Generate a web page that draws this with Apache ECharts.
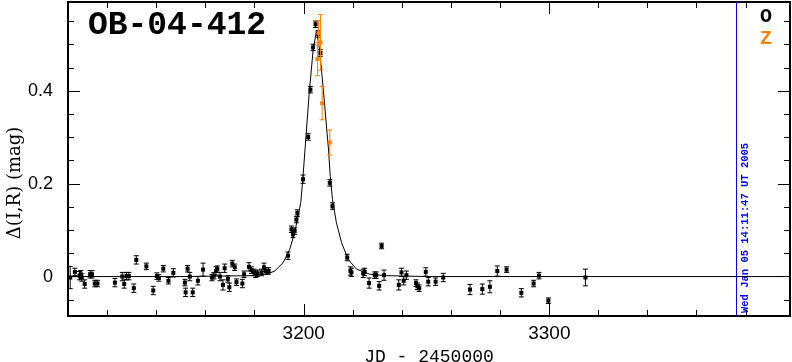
<!DOCTYPE html>
<html>
<head>
<meta charset="utf-8">
<script src="https://cdn.jsdelivr.net/npm/echarts@6/dist/echarts.min.js"></script>
<style>
  html, body { margin: 0; padding: 0; background: #fff; }
  #chart { width: 792px; height: 362px; }
</style>
</head>
<body>
<div id="chart"></div>
<script>
// O band photometry (JD - 2450000, delta mag, error)
const oJd = [3104.9, 3106.8, 3108.7, 3109.2, 3109.6, 3110.8, 3113.0, 3113.8, 3114.9, 3116.0,
  3123.1, 3126.1, 3126.9, 3127.8, 3128.8, 3130.8, 3131.8, 3135.9, 3138.7, 3140.2,
  3141.0, 3142.8, 3144.9, 3146.9, 3151.6, 3151.9, 3152.7, 3153.6, 3154.8, 3156.9,
  3159.0, 3162.6, 3163.4, 3164.3, 3164.8, 3165.9, 3167.1, 3167.8, 3169.1, 3169.7,
  3170.9, 3171.9, 3172.6, 3175.0, 3175.7, 3177.7, 3178.7, 3179.7, 3180.4, 3181.1,
  3182.8, 3183.8, 3184.6, 3185.7, 3193.6, 3195.0, 3195.6, 3196.3, 3197.0, 3197.4,
  3199.7, 3201.8, 3202.7, 3203.8, 3204.8, 3205.8, 3206.8, 3210.6, 3211.7, 3217.7,
  3219.0, 3219.4, 3224.2, 3224.8, 3226.6, 3228.9, 3229.5, 3230.7, 3231.7, 3232.7,
  3238.7, 3239.8, 3240.7, 3241.8, 3245.7, 3246.3, 3247.0, 3249.7, 3250.7, 3253.7,
  3256.8, 3267.7, 3272.7, 3275.8, 3278.8, 3282.6, 3288.6, 3293.6, 3295.8, 3299.6,
  3314.7];
const oMag = [-0.002, 0.010, 0.002, 0.005, -0.002, -0.016, 0.005, 0.005, -0.015, -0.015,
  -0.013, 0.000, -0.016, 0.001, 0.001, -0.025, 0.036, 0.022, -0.030, 0.001,
  -0.003, 0.017, -0.009, 0.008, -0.013, -0.034, 0.017, 0.000, -0.034, -0.009,
  0.015, -0.002, 0.002, 0.012, 0.016, 0.000, -0.018, 0.018, -0.005, -0.023,
  0.028, 0.020, -0.012, -0.015, 0.005, 0.021, 0.014, 0.009, 0.005, 0.007,
  0.009, 0.020, 0.012, 0.012, 0.045, 0.102, 0.091, 0.098, 0.123, 0.137,
  0.210, 0.301, 0.403, 0.494, 0.544, 0.523, 0.482, 0.202, 0.152, 0.041,
  0.012, 0.009, 0.007, 0.010, -0.014, 0.003, 0.003, -0.020, 0.066, 0.003,
  -0.018, 0.009, -0.009, 0.003, -0.014, -0.021, -0.025, 0.010, -0.011, -0.011,
  -0.002, -0.028, -0.027, -0.022, 0.012, 0.015, -0.035, -0.015, 0.002, -0.052,
  -0.002];
const oErr = [0.024, 0.008, 0.009, 0.008, 0.008, 0.009, 0.008, 0.008, 0.007, 0.007,
  0.009, 0.009, 0.009, 0.008, 0.008, 0.009, 0.009, 0.007, 0.009, 0.007,
  0.007, 0.007, 0.007, 0.009, 0.007, 0.009, 0.007, 0.009, 0.009, 0.009,
  0.014, 0.007, 0.007, 0.009, 0.007, 0.009, 0.011, 0.009, 0.007, 0.009,
  0.007, 0.007, 0.007, 0.009, 0.007, 0.009, 0.007, 0.007, 0.007, 0.007,
  0.007, 0.009, 0.007, 0.007, 0.008, 0.007, 0.007, 0.007, 0.007, 0.007,
  0.009, 0.007, 0.007, 0.007, 0.007, 0.007, 0.007, 0.007, 0.007, 0.007,
  0.009, 0.009, 0.009, 0.008, 0.011, 0.007, 0.007, 0.009, 0.006, 0.011,
  0.011, 0.009, 0.009, 0.009, 0.007, 0.007, 0.007, 0.009, 0.009, 0.008,
  0.009, 0.011, 0.011, 0.013, 0.011, 0.006, 0.009, 0.007, 0.007, 0.006,
  0.018];

// Z band photometry
const zJd = [3206.0, 3206.8, 3205.6, 3207.5, 3210.6];
const zMag = [0.525, 0.505, 0.469, 0.374, 0.289];
const zErr = [0.027, 0.060, 0.036, 0.036, 0.027];

// model light curve
const modelJd = [3104, 3150, 3180, 3184, 3186.1, 3188.2, 3191.6, 3194.3, 3196.3, 3197.7,
  3198.8, 3199.7, 3200.5, 3201.0, 3202.3, 3203.8, 3205.2, 3206.5, 3208.0, 3209.5,
  3210.1, 3210.8, 3211.7, 3213.3, 3215.4, 3218.1, 3221.5, 3226.9, 3233.7, 3250, 3398];
const modelMag = [0, 0, 0.002, 0.005, 0.0075, 0.012, 0.030, 0.059, 0.095, 0.130,
  0.160, 0.216, 0.273, 0.309, 0.401, 0.487, 0.531, 0.487, 0.401, 0.309,
  0.273, 0.216, 0.166, 0.116, 0.073, 0.037, 0.016, 0.005, 0.002, 0, 0];

const xMajor = [3200, 3300];
const xMinor = [3120, 3140, 3160, 3180, 3220, 3240, 3260, 3280, 3320, 3340, 3360, 3380];
const yMajor = [0, 0.2, 0.4];
const yMinor = [-0.05, 0.05, 0.1, 0.15, 0.25, 0.3, 0.35, 0.45, 0.5, 0.55];

const nowJd = 3376.1;
const stampText = 'Wed Jan 05 14:11:47 UT 2005';

const X_MIN = 3104, X_MAX = 3398;
const Y_MIN = -0.085, Y_MAX = 0.592;
const ORANGE = '#ff8000';

function zip3(a, b, c) {
  return a.map((v, i) => [v, b[i], c[i]]);
}

function errorBars(color) {
  return function (params, api) {
    const x = api.value(0), y = api.value(1), e = api.value(2);
    const p = api.coord([x, y]);
    const hi = api.coord([x, y + e]);
    const lo = api.coord([x, y - e]);
    const w = 2.5;
    const style = { stroke: color, lineWidth: 1 };
    return {
      type: 'group',
      children: [
        { type: 'line', shape: { x1: p[0], y1: hi[1], x2: p[0], y2: lo[1] }, style },
        { type: 'line', shape: { x1: p[0] - w, y1: hi[1], x2: p[0] + w, y2: hi[1] }, style },
        { type: 'line', shape: { x1: p[0] - w, y1: lo[1], x2: p[0] + w, y2: lo[1] }, style },
        { type: 'rect', shape: { x: p[0] - 2, y: p[1] - 2, width: 4, height: 4 }, style: { fill: color } }
      ]
    };
  };
}

function xAxisDef(position, ticks, len, labels) {
  return {
    type: 'value', position, min: X_MIN, max: X_MAX,
    axisLine: { show: true, onZero: false, lineStyle: { color: '#000', width: 2 } },
    axisTick: { show: true, inside: true, length: len, customValues: ticks, lineStyle: { color: '#000', width: 1 } },
    axisLabel: labels ? {
      show: true, customValues: ticks, margin: 8, color: '#000',
      fontFamily: 'Liberation Sans', fontSize: 19,
      formatter: v => String(v)
    } : { show: false },
    splitLine: { show: false },
    name: labels ? 'JD - 2450000' : '',
    nameLocation: 'middle', nameGap: 31,
    nameTextStyle: { color: '#000', fontFamily: 'Liberation Mono', fontSize: 18 }
  };
}

function yAxisDef(position, ticks, len, labels) {
  return {
    type: 'value', position, min: Y_MIN, max: Y_MAX,
    axisLine: { show: true, onZero: false, lineStyle: { color: '#000', width: 2 } },
    axisTick: { show: true, inside: true, length: len, customValues: ticks, lineStyle: { color: '#000', width: 1 } },
    axisLabel: labels ? {
      show: true, customValues: ticks, margin: 15, color: '#000',
      fontFamily: 'Liberation Sans', fontSize: 18,
      formatter: v => (v === 0 ? '0' : v.toFixed(1))
    } : { show: false },
    splitLine: { show: false }
  };
}

const chart = echarts.init(document.getElementById('chart'));
chart.setOption({
  animation: false,
  backgroundColor: '#fff',
  grid: { left: 68, right: 2, top: 2, bottom: 46, containLabel: false, outerBoundsMode: 'none' },
  xAxis: [
    xAxisDef('bottom', xMajor, 12, true),
    xAxisDef('bottom', xMinor, 6, false),
    xAxisDef('top', xMajor, 12, false),
    xAxisDef('top', xMinor, 6, false)
  ],
  yAxis: [
    yAxisDef('left', yMajor, 12, true),
    yAxisDef('left', yMinor, 6, false),
    yAxisDef('right', yMajor, 12, false),
    yAxisDef('right', yMinor, 6, false)
  ],
  graphic: [
    {
      type: 'text', x: 177, y: 26,
      style: { text: 'OB-04-412', fill: '#000', font: 'bold 33px "Liberation Mono"', textAlign: 'center', textVerticalAlign: 'middle' }
    },
    {
      type: 'text', x: 766, y: 17,
      style: { text: 'O', fill: '#000', font: 'bold 20px "Liberation Mono"', textAlign: 'center', textVerticalAlign: 'middle' }
    },
    {
      type: 'text', x: 766, y: 39,
      style: { text: 'Z', fill: ORANGE, font: 'bold 20px "Liberation Mono"', textAlign: 'center', textVerticalAlign: 'middle' }
    },
    {
      type: 'text', x: 15, y: 183, rotation: Math.PI / 2,
      style: { text: 'Δ(I,R) (mag)', fill: '#000', font: '18px "DejaVu Serif"', textAlign: 'center', textVerticalAlign: 'middle' }
    },
    {
      type: 'text', x: 745, y: 313, rotation: Math.PI / 2,
      style: { text: stampText, fill: '#0000ff', font: 'bold 10.5px "Liberation Mono"', textAlign: 'left', textVerticalAlign: 'middle' }
    }
  ],
  series: [
    {
      type: 'line',
      data: modelJd.map((v, i) => [v, modelMag[i]]),
      showSymbol: false,
      lineStyle: { color: '#000', width: 1 },
      z: 2,
      markLine: {
        silent: true, symbol: 'none',
        label: { show: false },
        lineStyle: { color: '#0000ff', width: 1, type: 'solid' },
        data: [{ xAxis: nowJd }]
      }
    },
    {
      type: 'custom',
      data: zip3(oJd, oMag, oErr),
      renderItem: errorBars('#000'),
      z: 3
    },
    {
      type: 'custom',
      data: zip3(zJd, zMag, zErr),
      renderItem: errorBars(ORANGE),
      z: 4
    }
  ]
});
</script>
</body>
</html>
